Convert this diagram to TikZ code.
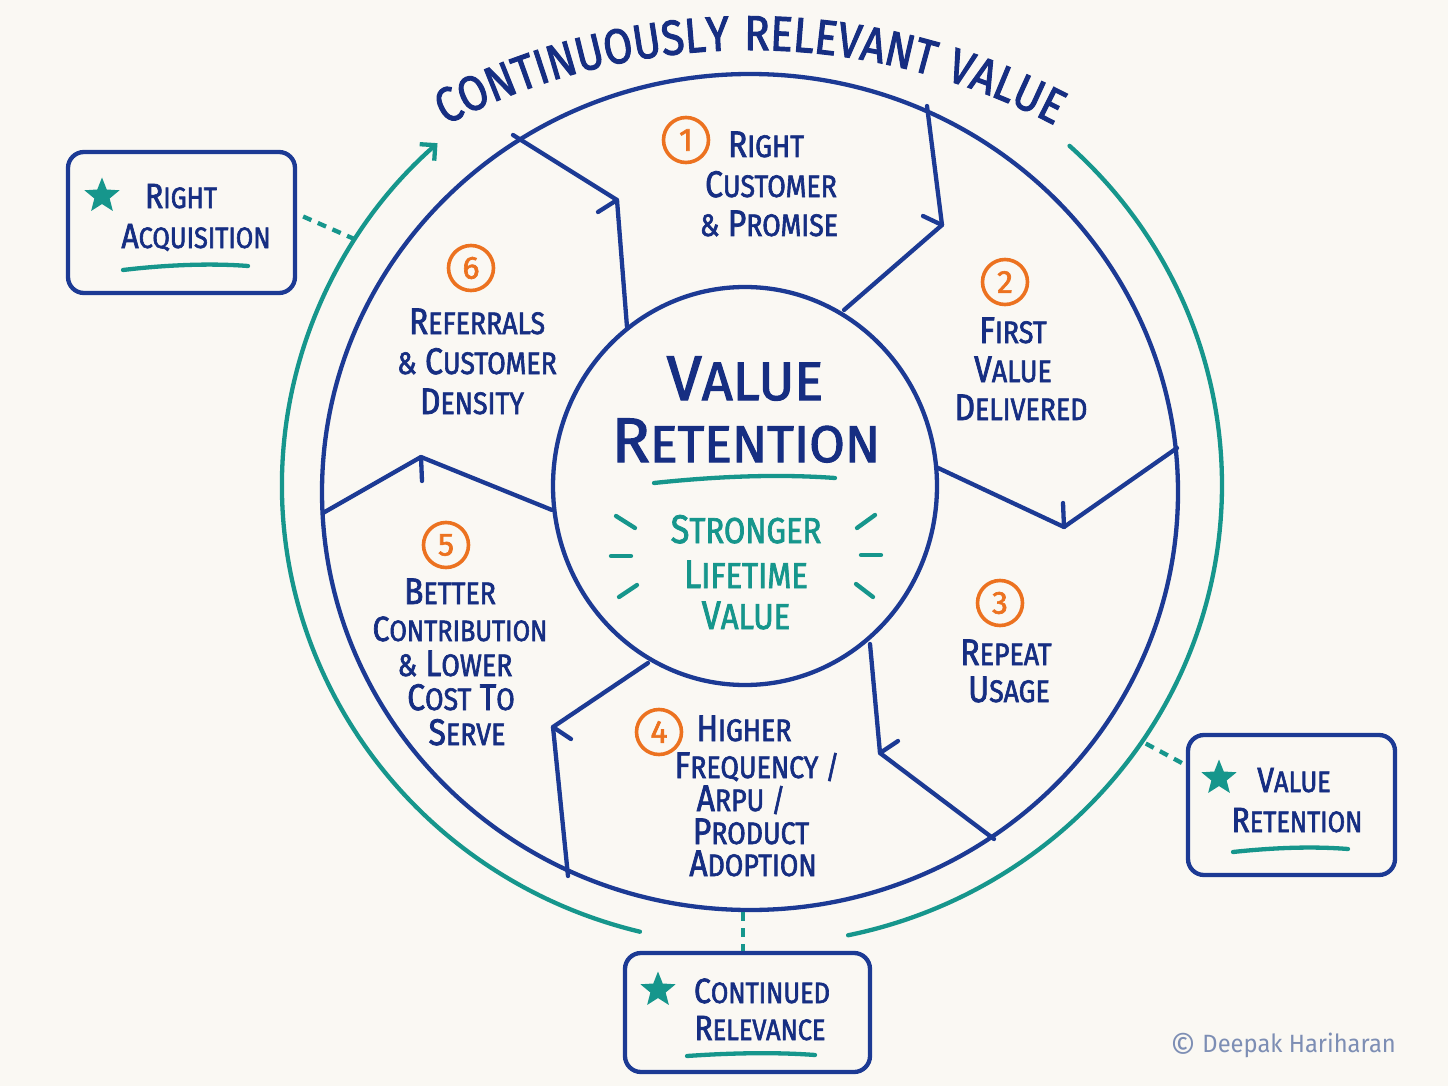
\documentclass[tikz,border=0pt]{standalone}
\usepackage{fontspec}
\usepackage{graphicx}
\usetikzlibrary{decorations.text,shapes.geometric,arrows.meta}
\setmainfont{Fira Sans}
\newfontfamily\handN{Fira Sans}[FakeStretch=0.86,FakeBold=2]
\newfontfamily\handW{Fira Sans}[FakeStretch=1.0,FakeBold=2]
\newfontfamily\handL{Fira Sans}[FakeStretch=0.95]
\definecolor{lineblue}{RGB}{28,58,148}
\definecolor{inkblue}{RGB}{22,46,130}
\definecolor{tealc}{RGB}{22,150,140}
\definecolor{orangec}{RGB}{236,114,32}
\definecolor{paper}{RGB}{250,248,243}
\definecolor{copyc}{RGB}{125,142,180}
\newcommand\MySC[2]{#1\scalebox{0.84}{#2}}
\newcommand\MyAmp{\scalebox{0.84}{\&}}
\newcommand\titlefont{\handN\fontsize{49}{49}\selectfont}
\tikzset{
 ln/.style={draw=lineblue, line width=4.3pt, line cap=round, line join=round},
 tk/.style={draw=tealc, line width=4.3pt, line cap=round},
 tkdash/.style={draw=tealc, line width=4.3pt, dash pattern=on 9pt off 7pt},
 lbl/.style={anchor=base, inner sep=0pt, text=inkblue, font=\handN\fontsize{37}{37}\selectfont},
 bxl/.style={anchor=base, inner sep=0pt, text=inkblue, font=\handN\fontsize{35}{35}\selectfont},
 ctr/.style={anchor=base, inner sep=0pt, text=inkblue, font=\handW\fontsize{63}{63}\selectfont},
 ctt/.style={anchor=base, inner sep=0pt, text=tealc, font=\handN\fontsize{40}{40}\selectfont},
 numc/.style={circle, draw=orangec, line width=3.6pt, minimum size=45pt, inner sep=0pt, text=orangec, font=\handW\fontsize{32}{32}\selectfont},
 box/.style={draw=lineblue, line width=4.3pt, rounded corners=16pt, inner sep=0pt},
 starn/.style={star, star points=5, star point ratio=2.3, fill=tealc, minimum size=37pt, inner sep=0pt},
}
\begin{document}
\begin{tikzpicture}[x=1pt,y=-1pt]
\fill[paper] (0,0) rectangle (1448,1086);
\useasboundingbox (0,0) rectangle (1448,1086);

% title along arc
\path[decorate, decoration={text along path, text={|\titlefont|CONTINUOUSLY RELEVANT VALUE}, text align={fit to path stretching spaces}, text color=inkblue}]
  ([shift={(-117.8:653)}]750,703) arc[start angle=-117.8, end angle=-62.2, radius=653];

% teal outer ring
\draw[tk, -{Straight Barb[length=11pt,width=22pt]}] ([shift={(103.8:470 and 460)}]752,485) arc[start angle=103.8, end angle=228, x radius=470, y radius=460];
\draw[tk] ([shift={(-47.5:470 and 460)}]752,485) arc[start angle=-47.5, end angle=78.2, x radius=470, y radius=460];
\coordinate (tA) at ([shift={(212.3:470 and 460)}]752,485);
\coordinate (tV) at ([shift={(33.9:470 and 460)}]752,485);

% outer and inner circles
\draw[ln] (750,492) circle[x radius=428, y radius=418];
\draw[ln] (745,486) circle[x radius=192, y radius=199];

% dividers
\coordinate (d1o) at (513,135); \coordinate (d1v) at (617,200); \coordinate (d1i) at (627,327); \coordinate (d1t) at (598,212);
\coordinate (d2o) at (927,106); \coordinate (d2v) at (942,225); \coordinate (d2i) at (844,310); \coordinate (d2t) at (923,216);
\coordinate (d3o) at (1177,448); \coordinate (d3v) at (1064,527); \coordinate (d3i) at (936,467); \coordinate (d3t) at (1063,503);
\coordinate (d4i) at (870,644); \coordinate (d4v) at (880,753); \coordinate (d4o) at (994,839); \coordinate (d4t) at (898,741);
\coordinate (d5i) at (648,663); \coordinate (d5v) at (553,727); \coordinate (d5o) at (568,876); \coordinate (d5t) at (571,739);
\coordinate (d6o) at (323,513); \coordinate (d6v) at (421,457); \coordinate (d6i) at (552,510); \coordinate (d6t) at (422,481);
\foreach \k in {1,...,6}{
  \draw[ln] (d\k o) -- (d\k v) -- (d\k i);
  \draw[ln] (d\k v) -- (d\k t);
}

% numbers
\node[numc] (n1) at (686,140) {1};
\node[numc] (n2) at (1005,282) {2};
\node[numc] (n3) at (1000,603) {3};
\node[numc] (n4) at (659,732) {4};
\node[numc] (n5) at (446,545) {5};
\node[numc] (n6) at (471,268) {6};

% segment 1
\node[lbl] (s1a) at (766,157) {\MySC{R}{IGHT}};
\node[lbl] (s1b) at (771,197) {\MySC{C}{USTOMER}};
\node[lbl] (s1c) at (769,236) {\MyAmp{} \MySC{P}{ROMISE}};
% segment 2
\node[lbl] (s2a) at (1013,343) {\MySC{F}{IRST}};
\node[lbl] (s2b) at (1013,382) {\MySC{V}{ALUE}};
\node[lbl] (s2c) at (1021,420) {\MySC{D}{ELIVERED}};
% segment 3
\node[lbl] (s3a) at (1006,665) {\MySC{R}{EPEAT}};
\node[lbl] (s3b) at (1009,702) {\MySC{U}{SAGE}};
% segment 4
\node[lbl] (s4a) at (744,741) {\MySC{H}{IGHER}};
\node[lbl] (s4b) at (757,778) {\MySC{F}{REQUENCY /}};
\node[lbl] (s4c) at (741,811) {\MySC{A}{RPU /}};
\node[lbl] (s4d) at (751,844) {\MySC{P}{RODUCT}};
\node[lbl] (s4e) at (753,876) {\MySC{A}{DOPTION}};
% segment 5
\node[lbl] (s5a) at (450,604) {\MySC{B}{ETTER}};
\node[lbl, font=\handN\fontsize{35}{35}\selectfont] (s5b) at (460,641) {\MySC{C}{ONTRIBUTION}};
\node[lbl] (s5c) at (455,676) {\MyAmp{} \MySC{L}{OWER}};
\node[lbl] (s5d) at (461,710) {\MySC{C}{OST} \MySC{T}{O}};
\node[lbl] (s5e) at (467,745) {\MySC{S}{ERVE}};
% segment 6
\node[lbl] (s6a) at (477,334) {\MySC{R}{EFERRALS}};
\node[lbl] (s6b) at (477,374) {\MyAmp{} \MySC{C}{USTOMER}};
\node[lbl] (s6c) at (472,414) {\MySC{D}{ENSITY}};

% centre
\node[ctr] (cv1) at (745,400) {V\scalebox{0.86}{ALUE}};
\node[ctr] (cv2) at (746,462) {R\scalebox{0.82}{ETENTION}};
\draw[tk] (654,483) .. controls (720,476) and (780,474) .. (835,478);
\node[ctt] (cl1) at (746,543) {S\scalebox{0.9}{TRONGER}};
\node[ctt] (cl2) at (746,588) {L\scalebox{0.9}{IFETIME}};
\node[ctt] (cl3) at (746,629) {V\scalebox{0.9}{ALUE}};
\draw[tk] (616,516) -- (635,528);
\draw[tk] (611,556) -- (631,556);
\draw[tk] (619,597) -- (637,585);
\draw[tk] (857,528) -- (875,515);
\draw[tk] (861,555) -- (881,555);
\draw[tk] (856,584) -- (873,597);

% box: right acquisition
\node[box, minimum width=227pt, minimum height=141pt] (bxA) at (181.5,222.5) {};
\node[starn] (stA) at (102,196) {};
\node[bxl] (bA1) at (181,208) {\MySC{R}{IGHT}};
\node[bxl] (bA2) at (196,248) {\MySC{A}{CQUISITION}};
\draw[tk] (123,270) .. controls (165,265) and (210,263) .. (248,266);
\draw[tkdash] ([yshift=6pt]bxA.east) ++(6pt,0) -- (tA);

% box: value retention
\node[box, minimum width=207pt, minimum height=140pt] (bxV) at (1291.5,805) {};
\node[starn] (stV) at (1219,778) {};
\node[bxl] (bV1) at (1294,792) {\MySC{V}{ALUE}};
\node[bxl] (bV2) at (1297,832) {\MySC{R}{ETENTION}};
\draw[tk] (1233,852) .. controls (1270,848) and (1310,846) .. (1348,849);
\draw[tkdash] ([yshift=42pt]bxV.west) ++(-4pt,0) -- (tV);

% box: continued relevance
\node[box, minimum width=245pt, minimum height=119pt] (bxC) at (747.5,1012.5) {};
\node[starn] (stC) at (658,990) {};
\node[bxl] (bC1) at (762,1003) {\MySC{C}{ONTINUED}};
\node[bxl] (bC2) at (760,1040) {\MySC{R}{ELEVANCE}};
\draw[tk] (687,1056) .. controls (730,1053) and (775,1052) .. (815,1055);
\coordinate (cTop) at (743,912);
\draw[tkdash] (cTop) -- (cTop |- bxC.north);

% copyright
\node[anchor=base, inner sep=0pt, text=copyc, font=\handL\fontsize{25}{25}\selectfont] (copy) at (1283,1052) {\raisebox{-6pt}{\scalebox{1.35}{©}} Deepak Hariharan};
\end{tikzpicture}
\end{document}
